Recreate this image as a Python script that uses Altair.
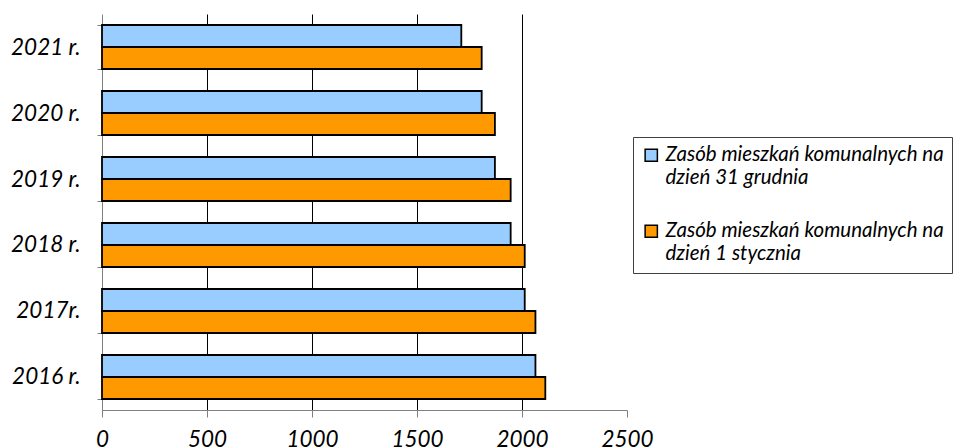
import altair as alt
import pandas as pd

years = ["2021 r.", "2020 r.", "2019 r.", "2018 r.", "2017r.", "2016 r."]
dec31 = [1711, 1808, 1871, 1946, 2013, 2064]
jan1 = [1808, 1871, 1946, 2013, 2064, 2111]
series = ["Zasób mieszkań komunalnych na dzień 31 grudnia",
          "Zasób mieszkań komunalnych na dzień 1 stycznia"]
colors = ["#99CCFF", "#FF9900"]
x_ticks = [0, 500, 1000, 1500, 2000, 2500]

rows = []
for y, a, b in zip(years, dec31, jan1):
    rows.append({"rok": y, "seria": series[0], "wartosc": a})
    rows.append({"rok": y, "seria": series[1], "wartosc": b})
df = pd.DataFrame(rows)

FONT = "Lato"

chart = alt.Chart(df).mark_bar(stroke="black", strokeWidth=1.8).encode(
    y=alt.Y("rok:N", sort=years, title=None,
            scale=alt.Scale(paddingInner=0.333, paddingOuter=0.1667),
            axis=alt.Axis(tickBand="extent", grid=False, domainColor="#808080",
                          tickColor="#808080", tickSize=5, labelPadding=17,
                          labelFont=FONT, labelFontSize=22.5, labelFontStyle="italic",
                          labelColor="black")),
    yOffset=alt.YOffset("seria:N", sort=series,
                        scale=alt.Scale(paddingInner=0, paddingOuter=0)),
    x=alt.X("wartosc:Q", title=None,
            scale=alt.Scale(domain=[0, 2500], nice=False),
            axis=alt.Axis(values=x_ticks, format="d", grid=True, gridColor="black", gridWidth=1,
                          gridOpacity={"condition": {"test": "datum.value >= 2500 || datum.value <= 0", "value": 0}, "value": 1},
                          domainColor="#808080", tickColor="#808080", tickSize=7,
                          labelFlush=False,
                          labelPadding=11, labelFont=FONT, labelFontSize=22.5,
                          labelFontStyle="italic", labelColor="black")),
    color=alt.Color("seria:N", sort=series,
                    scale=alt.Scale(domain=series, range=colors),
                    legend=alt.Legend(orient="none", legendX=531, legendY=123,
                                      title=None, strokeColor="#404040", padding=8,
                                      symbolType="square", symbolSize=150,
                                      symbolStrokeColor="black", symbolStrokeWidth=1.5,
                                      labelExpr="[substring(datum.label, 0, 29), substring(datum.label, 30)]",
                                      labelFont=FONT, labelFontSize=20.5, labelFontStyle="italic",
                                      labelColor="black", labelLimit=400, labelOffset=4,
                                      rowPadding=32)),
).properties(
    width=525, height=396,
    autosize=alt.AutoSizeParams(type="none"),
    padding={"left": 94, "top": 6, "right": 329, "bottom": 45},
).configure_view(stroke=None)

chart.save("out.html", embed_options={"renderer": "svg", "actions": False})
